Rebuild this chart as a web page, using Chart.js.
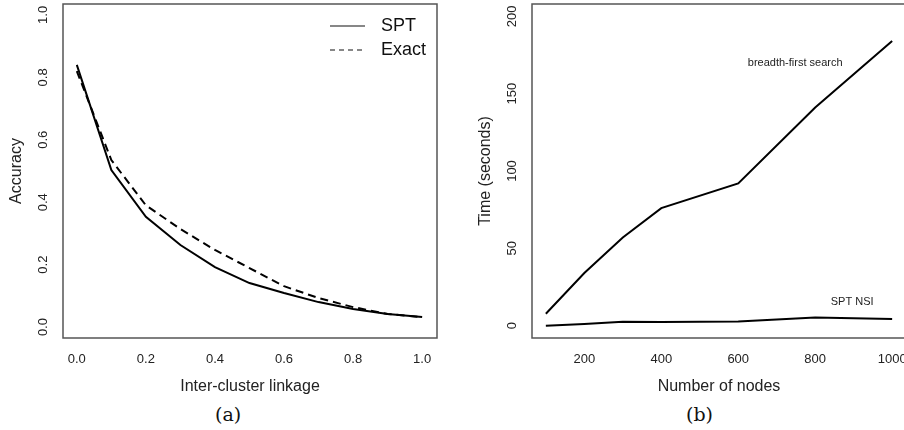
<!DOCTYPE html>
<html>
<head>
<meta charset="utf-8">
<script src="https://cdn.jsdelivr.net/npm/chart.js@4.4.1/dist/chart.umd.min.js"></script>
<style>
  html, body { margin: 0; padding: 0; background: #fff; overflow: hidden; width: 904px; height: 430px; }
  canvas { position: absolute; top: 0; }
  #accChart { left: 0; }
  #timeChart { left: 450px; }
  .cap { position: absolute; top: 403px; font-family: "DejaVu Serif", "Liberation Serif", serif; font-size: 19px; color: #111; }
</style>
</head>
<body>
<canvas id="accChart" width="450" height="400"></canvas>
<canvas id="timeChart" width="460" height="400"></canvas>
<div class="cap" style="left:215px">(a)</div>
<div class="cap" style="left:686px">(b)</div>
<script>
// panel (a): accuracy vs inter-cluster linkage
const linkage = [0.0, 0.1, 0.2, 0.3, 0.4, 0.5, 0.6, 0.7, 0.8, 0.9, 1.0];
const sptAccuracy = [0.84, 0.503, 0.353, 0.263, 0.192, 0.141, 0.109, 0.08, 0.058, 0.042, 0.032];
const exactAccuracy = [0.82, 0.535, 0.39, 0.314, 0.247, 0.189, 0.131, 0.093, 0.064, 0.042, 0.032];
const accXTicks = [0, 0.2, 0.4, 0.6, 0.8, 1.0];
const accYTicks = [0, 0.2, 0.4, 0.6, 0.8, 1.0];

// panel (b): running time vs number of nodes
const nodes = [100, 200, 300, 400, 600, 800, 1000];
const bfsTime = [7.7, 34, 57, 76, 92, 141, 184];
const sptNsiTime = [0, 1, 2.5, 2.3, 2.7, 5.2, 4.3];
const timeXTicks = [200, 400, 600, 800, 1000];
const timeYTicks = [0, 50, 100, 150, 200];

const FONT = '"Liberation Sans", Arial, Helvetica, sans-serif';

// box around the plot region + rotated y tick labels and y title, R style
const rBox = {
  id: 'rBox',
  afterDraw(chart, args, opts) {
    const { ctx, chartArea: a } = chart;
    ctx.save();
    ctx.strokeStyle = '#555';
    ctx.lineWidth = 1.5;
    ctx.strokeRect(a.left, a.top, a.right - a.left, a.bottom - a.top);
    const ys = chart.scales.y;
    ctx.fillStyle = '#222';
    ctx.font = '13px ' + FONT;
    ctx.textAlign = 'center';
    ctx.textBaseline = 'middle';
    ys.ticks.forEach(t => {
      const py = ys.getPixelForValue(t.value);
      ctx.save();
      ctx.translate(a.left - 20, py);
      ctx.rotate(-Math.PI / 2);
      ctx.fillText(opts.fmt(t.value), 0, 0);
      ctx.restore();
    });
    ctx.save();
    ctx.font = '16px ' + FONT;
    ctx.translate(a.left - 46, (a.top + a.bottom) / 2);
    ctx.rotate(-Math.PI / 2);
    ctx.fillText(opts.title, 0, 0);
    ctx.restore();
    ctx.restore();
  }
};

function fixTicks(list) {
  return s => { s.ticks = list.map(v => ({ value: v })); };
}

function baseScales(o) {
  return {
    x: {
      type: 'linear',
      min: o.xmin, max: o.xmax,
      afterBuildTicks: fixTicks(o.xticks),
      afterFit: s => { s.height = o.bottomH; s.paddingLeft = 0; s.paddingRight = 0; },
      grid: { display: false, drawTicks: false },
      border: { display: false },
      ticks: {
        color: '#222', padding: 14, maxRotation: 0, autoSkip: false,
        font: { family: FONT, size: 13 },
        callback: o.xfmt
      },
      title: {
        display: true, text: o.xtitle, color: '#222',
        font: { family: FONT, size: 16 }, padding: { top: 10 }
      }
    },
    y: {
      type: 'linear',
      min: o.ymin, max: o.ymax,
      afterBuildTicks: fixTicks(o.yticks),
      afterFit: s => { s.width = o.leftW; s.paddingTop = 0; s.paddingBottom = 0; },
      grid: { display: false, drawTicks: false },
      border: { display: false },
      ticks: { display: false },
      title: { display: false }
    }
  };
}

// legend drawn inside panel (a), top right
const accLegend = {
  id: 'accLegend',
  afterDraw(chart) {
    const { ctx, chartArea: a } = chart;
    const items = [
      { label: 'SPT', dash: [] },
      { label: 'Exact', dash: [5, 4] }
    ];
    ctx.save();
    ctx.font = '18px ' + FONT;
    ctx.fillStyle = '#111';
    ctx.strokeStyle = '#111';
    ctx.lineWidth = 1.2;
    ctx.textBaseline = 'middle';
    items.forEach((it, i) => {
      const y = a.top + 22 + i * 24;
      const x0 = a.right - 107;
      ctx.setLineDash(it.dash);
      ctx.beginPath();
      ctx.moveTo(x0, y);
      ctx.lineTo(x0 + 35, y);
      ctx.stroke();
      ctx.setLineDash([]);
      ctx.fillText(it.label, x0 + 51, y);
    });
    ctx.restore();
  }
};

// series labels for panel (b), placed in data coordinates
const timeNotes = [
  { text: 'breadth-first search', x: 748, y: 170 },
  { text: 'SPT NSI', x: 896, y: 15 }
];
const timeLabels = {
  id: 'timeLabels',
  afterDatasetsDraw(chart) {
    const { ctx, scales } = chart;
    ctx.save();
    ctx.font = '11px ' + FONT;
    ctx.fillStyle = '#222';
    ctx.textAlign = 'center';
    ctx.textBaseline = 'middle';
    timeNotes.forEach(n => {
      ctx.fillText(n.text, scales.x.getPixelForValue(n.x), scales.y.getPixelForValue(n.y));
    });
    ctx.restore();
  }
};

Chart.defaults.animation = false;

new Chart(document.getElementById('accChart'), {
  type: 'line',
  data: {
    datasets: [
      {
        label: 'SPT',
        data: linkage.map((x, i) => ({ x: x, y: sptAccuracy[i] })),
        borderColor: '#000', borderWidth: 2, pointRadius: 0, tension: 0
      },
      {
        label: 'Exact',
        data: linkage.map((x, i) => ({ x: x, y: exactAccuracy[i] })),
        borderColor: '#000', borderWidth: 2, borderDash: [8, 5], pointRadius: 0, tension: 0
      }
    ]
  },
  options: {
    responsive: false,
    layout: { padding: { top: 4, right: 13, left: 0, bottom: 0 } },
    plugins: {
      legend: { display: false },
      tooltip: { enabled: false },
      rBox: { fmt: v => v.toFixed(1), title: 'Accuracy' }
    },
    scales: baseScales({
      xmin: -0.04, xmax: 1.043, ymin: -0.035, ymax: 1.035,
      xticks: accXTicks, yticks: accYTicks,
      xfmt: v => Number(v).toFixed(1),
      xtitle: 'Inter-cluster linkage',
      bottomH: 62, leftW: 63
    })
  },
  plugins: [rBox, accLegend]
});

new Chart(document.getElementById('timeChart'), {
  type: 'line',
  data: {
    datasets: [
      {
        label: 'breadth-first search',
        data: nodes.map((x, i) => ({ x: x, y: bfsTime[i] })),
        borderColor: '#000', borderWidth: 2, pointRadius: 0, tension: 0
      },
      {
        label: 'SPT NSI',
        data: nodes.map((x, i) => ({ x: x, y: sptNsiTime[i] })),
        borderColor: '#000', borderWidth: 2, pointRadius: 0, tension: 0
      }
    ]
  },
  options: {
    responsive: false,
    layout: { padding: { top: 4, right: 4, left: 0, bottom: 0 } },
    plugins: {
      legend: { display: false },
      tooltip: { enabled: false },
      rBox: { fmt: v => String(v), title: 'Time (seconds)' }
    },
    scales: baseScales({
      xmin: 64, xmax: 1036, ymin: -8, ymax: 208,
      xticks: timeXTicks, yticks: timeYTicks,
      xfmt: v => String(v),
      xtitle: 'Number of nodes',
      bottomH: 62, leftW: 82
    })
  },
  plugins: [rBox, timeLabels]
});
</script>
</body>
</html>
